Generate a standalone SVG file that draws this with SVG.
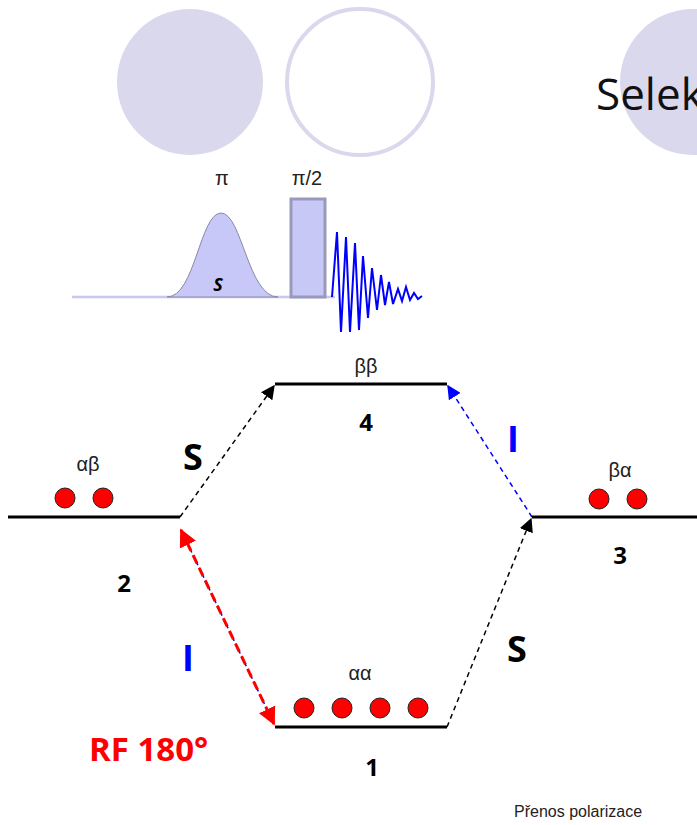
<svg xmlns="http://www.w3.org/2000/svg" width="697" height="825" viewBox="0 0 697 825">
<defs>
<style>
.lvl{stroke:#000;stroke-width:3;fill:none}
.dot{fill:#f00;stroke:#222;stroke-width:1}
.greek{font-family:"Liberation Sans","DejaVu Sans",sans-serif;font-size:20px;fill:#222;text-anchor:middle}
.num{font-family:"Open Sans","Liberation Sans",sans-serif;font-weight:bold;font-size:24px;fill:#000;text-anchor:middle}
.big{font-family:"Open Sans","Liberation Sans",sans-serif;font-weight:bold;font-size:36px;text-anchor:middle}
.deco{fill:#dad8ed}
</style>
<marker id="ahB" viewBox="0 0 10 10" refX="9" refY="5" markerWidth="14" markerHeight="14" orient="auto" markerUnits="userSpaceOnUse"><path d="M0,0 L10,5 L0,10 z" fill="#00f"/></marker>
<marker id="ahKb" viewBox="0 0 10 10" refX="9" refY="5" markerWidth="14" markerHeight="14" orient="auto" markerUnits="userSpaceOnUse"><path d="M0,0 L10,5 L0,10 z" fill="#000"/></marker>
<marker id="ahR" viewBox="0 0 10 10" refX="9" refY="5" markerWidth="18" markerHeight="18" orient="auto-start-reverse" markerUnits="userSpaceOnUse"><path d="M0,0 L10,5 L0,10 z" fill="#f00"/></marker>
</defs>
<rect width="697" height="825" fill="#fff"/>
<g id="decor">
<circle class="deco" cx="190" cy="82" r="73"/>
<circle cx="360" cy="82" r="73" fill="#fff" stroke="#dad8ed" stroke-width="4"/>
<circle class="deco" cx="693" cy="82" r="73"/>
<text x="596" y="110" font-family="Open Sans,Liberation Sans,sans-serif" font-size="44" fill="#111">Selek</text>
</g>
<g id="pulse-sequence">
<line x1="72" y1="297" x2="335" y2="297" stroke="#c8c8f0" stroke-width="2.5"/>
<path d="M167,297 C195,297 200,213 221,213 C242,213 248,297 278,297 Z" fill="#c8c8f8" stroke="#8888aa" stroke-width="1"/>
<rect x="291" y="199" width="34" height="98" fill="#c8c8f6" stroke="#9999bb" stroke-width="3"/>
<text x="222" y="185" class="greek">π</text>
<text x="307" y="185" class="greek">π/2</text>
<text x="218" y="291" font-family="Open Sans,Liberation Sans,sans-serif" font-weight="bold" font-style="italic" font-size="18" fill="#000" text-anchor="middle">S</text>
<path d="M332,297 L337,232 L341,332 L346,237 L350,332 L355,243 L359,330 L363,256 L368,318 L372,268 L377,310 L381,275 L385,305 L389,282 L393,304 L398,289 L402,301 L406,287 L410,300 L414,293 L418,299 L422,296" fill="none" stroke="#00f" stroke-width="2"/>
</g>
<g id="connectors">
<line x1="180" y1="517" x2="274" y2="386" stroke="#000" stroke-width="1.5" stroke-dasharray="5,4" marker-end="url(#ahKb)"/>
<line x1="532" y1="517" x2="448" y2="386" stroke="#00f" stroke-width="1.5" stroke-dasharray="5,4" marker-end="url(#ahB)"/>
<line x1="447" y1="727" x2="531" y2="519" stroke="#000" stroke-width="1.5" stroke-dasharray="5,4" marker-end="url(#ahKb)"/>
<line x1="181" y1="530" x2="274" y2="724" stroke="#00f" stroke-width="1.5" stroke-dasharray="4,3"/>
<line x1="181" y1="530" x2="274" y2="724" stroke="#f00" stroke-width="3" stroke-dasharray="9,5" marker-start="url(#ahR)" marker-end="url(#ahR)"/>
</g>
<g id="level4">
<line class="lvl" x1="275" y1="384" x2="447" y2="384"/>
<text x="366" y="373" class="greek">ββ</text>
<text x="366" y="431" class="num">4</text>
</g>
<g id="level2">
<line class="lvl" x1="8" y1="517" x2="180" y2="517"/>
<text x="88" y="471" class="greek">αβ</text>
<circle class="dot" cx="65" cy="498" r="10"/>
<circle class="dot" cx="103" cy="498" r="10"/>
<text x="124" y="592" class="num">2</text>
</g>
<g id="level3">
<line class="lvl" x1="532" y1="517" x2="697" y2="517"/>
<text x="620" y="477" class="greek">βα</text>
<circle class="dot" cx="599" cy="499" r="10"/>
<circle class="dot" cx="637" cy="499" r="10"/>
<text x="620" y="564" class="num">3</text>
</g>
<g id="level1">
<line class="lvl" x1="275" y1="727" x2="447" y2="727"/>
<text x="360" y="680" class="greek">αα</text>
<circle class="dot" cx="304" cy="708" r="10"/>
<circle class="dot" cx="342" cy="708" r="10"/>
<circle class="dot" cx="380" cy="708" r="10"/>
<circle class="dot" cx="418" cy="708" r="10"/>
<text x="372" y="776" class="num">1</text>
</g>
<g id="labels">
<text x="193" y="470" class="big" fill="#000">S</text>
<text x="513" y="452" class="big" fill="#00f">I</text>
<text x="517" y="662" class="big" fill="#000">S</text>
<text x="188" y="671" class="big" fill="#00f">I</text>
<text x="89" y="761" font-family="Open Sans,Liberation Sans,sans-serif" font-weight="bold" font-size="33" fill="#f00">RF 180°</text>
<text x="514" y="817" font-family="Liberation Sans,Arial,sans-serif" font-size="16" fill="#222">Přenos polarizace</text>
</g>
</svg>
